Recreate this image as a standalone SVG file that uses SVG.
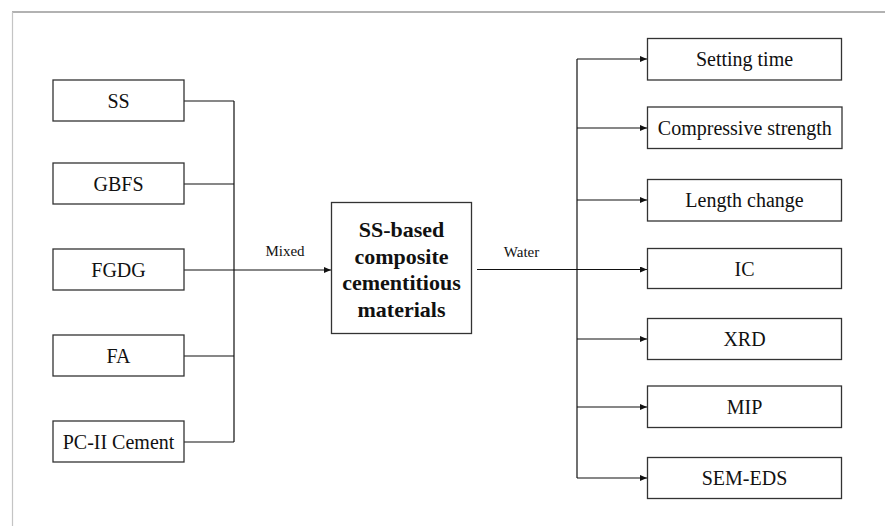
<svg xmlns="http://www.w3.org/2000/svg" width="885" height="526" viewBox="0 0 885 526">
<style>
.box{fill:#fff;stroke:#333;stroke-width:1.3}
.t{font-family:"Liberation Serif","Times New Roman",serif;font-size:20px;fill:#111;text-anchor:middle}
.b{font-family:"Liberation Serif","Times New Roman",serif;font-size:22px;font-weight:bold;fill:#111;text-anchor:middle}
.s{font-family:"Liberation Serif","Times New Roman",serif;font-size:15px;fill:#111;text-anchor:middle}
.ln{fill:none;stroke:#111;stroke-width:1.2}
</style>
<defs>
<marker id="ah" markerWidth="8" markerHeight="6" refX="7" refY="3" orient="auto" markerUnits="userSpaceOnUse">
<path d="M0,0 L7,3 L0,6 Z" fill="#111"/>
</marker>
</defs>
<rect width="885" height="526" fill="#fff"/>
<g id="frame">
<line x1="12" y1="12" x2="885" y2="12" stroke="#666" stroke-width="1.2"/>
<line x1="12.5" y1="12" x2="12.5" y2="526" stroke="#c4c4c4" stroke-width="1.2"/>
</g>
<g id="connectors">
<path class="ln" d="M184,101 H234 M184,184 H234 M184,356 H234 M184,442 H234 M234,101 V442"/>
<path class="ln" d="M184,270 H331" marker-end="url(#ah)"/>
<path class="ln" d="M477,269.5 H647" marker-end="url(#ah)"/>
<path class="ln" d="M577,59 V478"/>
<path class="ln" d="M577,59 H647" marker-end="url(#ah)"/>
<path class="ln" d="M577,128 H647" marker-end="url(#ah)"/>
<path class="ln" d="M577,200 H647" marker-end="url(#ah)"/>
<path class="ln" d="M577,339 H647" marker-end="url(#ah)"/>
<path class="ln" d="M577,407 H647" marker-end="url(#ah)"/>
<path class="ln" d="M577,478 H647" marker-end="url(#ah)"/>
<text class="s" x="285" y="256">Mixed</text>
<text class="s" x="521.5" y="257">Water</text>
</g>
<g id="n-ss"><rect class="box" x="53" y="80" width="131" height="41"/><text class="t" x="118.5" y="107.5">SS</text></g>
<g id="n-gbfs"><rect class="box" x="53" y="163" width="131" height="41"/><text class="t" x="118.5" y="190.5">GBFS</text></g>
<g id="n-fgdg"><rect class="box" x="53" y="249" width="131" height="41"/><text class="t" x="118.5" y="276.5">FGDG</text></g>
<g id="n-fa"><rect class="box" x="53" y="335" width="131" height="41"/><text class="t" x="118.5" y="362.5">FA</text></g>
<g id="n-pc"><rect class="box" x="53" y="421" width="131" height="41"/><text class="t" x="118.5" y="448.5">PC-II Cement</text></g>
<g id="n-center"><rect class="box" x="331.5" y="202.5" width="140" height="131"/>
<text class="b" x="401.5" y="237">SS-based</text>
<text class="b" x="401.5" y="263.5">composite</text>
<text class="b" x="401.5" y="290">cementitious</text>
<text class="b" x="401.5" y="316.5">materials</text>
</g>
<g id="n-setting"><rect class="box" x="647.5" y="38.5" width="194" height="41.5"/><text class="t" x="744.5" y="66">Setting time</text></g>
<g id="n-comp"><rect class="box" x="647.5" y="107" width="194.5" height="41.5"/><text class="t" x="744.8" y="134.5">Compressive strength</text></g>
<g id="n-length"><rect class="box" x="647.5" y="179.5" width="194" height="41.5"/><text class="t" x="744.5" y="207">Length change</text></g>
<g id="n-ic"><rect class="box" x="647.5" y="248.5" width="194" height="40"/><text class="t" x="744.5" y="275.5">IC</text></g>
<g id="n-xrd"><rect class="box" x="647.5" y="318.5" width="194" height="41"/><text class="t" x="744.5" y="346">XRD</text></g>
<g id="n-mip"><rect class="box" x="647.5" y="386" width="194" height="41.5"/><text class="t" x="744.5" y="413.5">MIP</text></g>
<g id="n-sem"><rect class="box" x="647.5" y="457.5" width="194" height="41"/><text class="t" x="744.5" y="485">SEM-EDS</text></g>
</svg>
